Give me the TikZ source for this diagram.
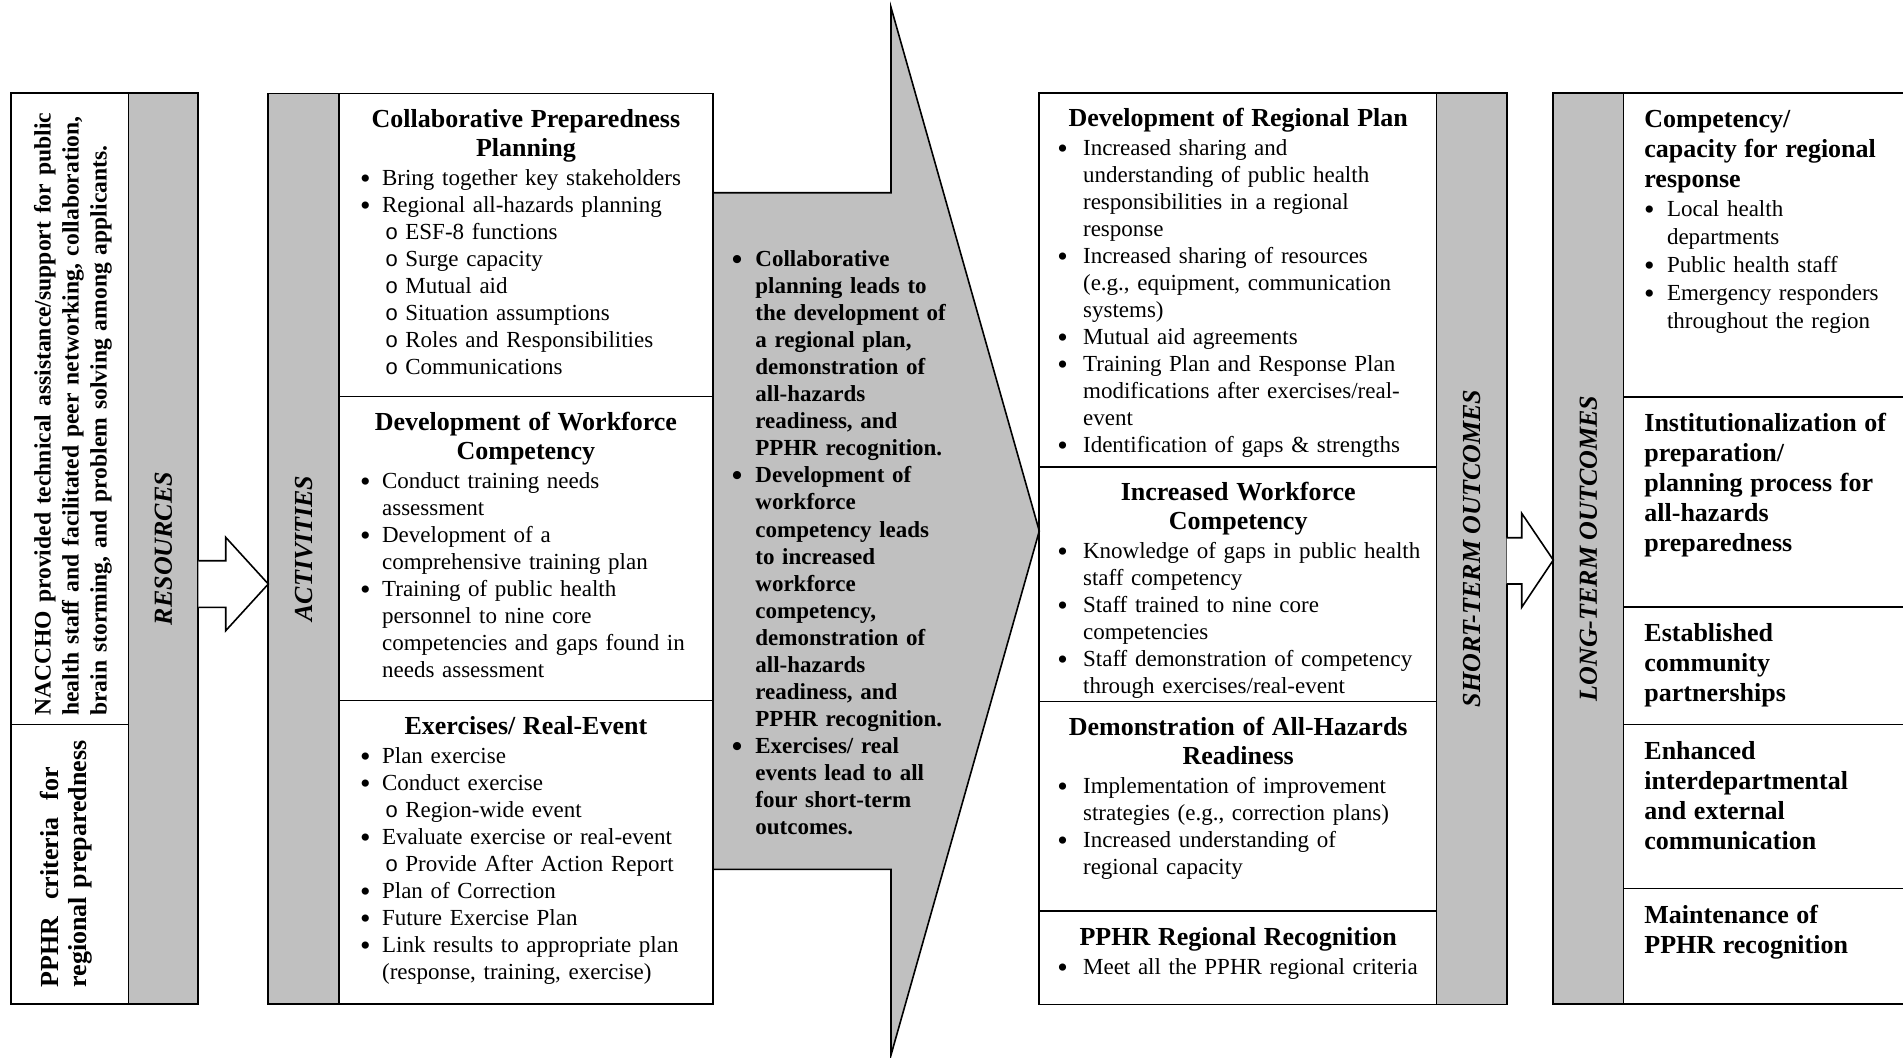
\documentclass[tikz,border=0pt]{standalone}
\usepackage{fontspec}
\setmainfont{Liberation Serif}
\newfontfamily\monof{Liberation Mono}
\usetikzlibrary{calc}
\definecolor{boxgray}{RGB}{192,192,192}
\newlength{\myBL}\newlength{\myBG}\newlength{\mySL}\newlength{\mySG}\newlength{\myHL}
\setlength{\parskip}{0pt}
\newcommand{\myFL}{\rule{0pt}{10pt}}
\newcommand{\myBullet}{\raisebox{-1.5pt}{\fontsize{15}{15}\selectfont\textbullet}}
\newcommand{\myHead}[1]{{\centering\bfseries\fontsize{13}{14.75}\selectfont\myFL #1\par}\vspace{1pt}}
\newcommand{\ltHead}[1]{{\setlength{\leftskip}{\myHL}\bfseries\fontsize{13}{15}\selectfont\myFL #1\par}\vspace{0.5pt}}
\newcommand{\bItem}[1]{{\setlength{\leftskip}{\myBL}\noindent\llap{\myBullet\hspace{\myBG}}#1\par}}
\newcommand{\sItem}[1]{{\setlength{\leftskip}{\mySL}\noindent\llap{{\monof\fontsize{11}{11}\selectfont o}\hspace{\mySG}}#1\par}}
\newcommand{\setAct}{\setlength{\parskip}{0pt}\setlength{\myBL}{21.35pt}\setlength{\myBG}{5.7pt}\setlength{\mySL}{33pt}\setlength{\mySG}{3.6pt}}
\newcommand{\setSt}{\setlength{\parskip}{0pt}\setlength{\myBL}{21.7pt}\setlength{\myBG}{7.6pt}}
\newcommand{\setLt}{\setlength{\parskip}{0pt}\setlength{\myHL}{10pt}\setlength{\myBL}{21.3pt}\setlength{\myBG}{6.2pt}}
\newcommand{\setMid}{\setlength{\parskip}{0pt}\setlength{\myBL}{17.5pt}\setlength{\myBG}{6.5pt}}
\begin{document}
\begin{tikzpicture}[x=0.5pt,y=-0.5pt,
  outer/.style={line width=0.9pt},
  divl/.style={line width=0.75pt},
  arrowline/.style={line width=0.8pt, line join=miter},
  txt/.style={anchor=north west, inner sep=0pt, align=left,
    font={\fontsize{11.5}{13.5}\selectfont}},
  actxt/.style={txt, text width=186.5pt, execute at begin node={\setAct}},
  sttxt/.style={txt, text width=198.5pt, execute at begin node={\setSt}},
  lttxt/.style={txt, text width=170pt, font={\fontsize{11.5}{14}\selectfont}, execute at begin node={\setLt}},
  midtxt/.style={txt, text width=150pt,
    font={\fontsize{11.5}{13.53}\selectfont\bfseries}, execute at begin node={\setMid}},
  lbl/.style={rotate=90, inner sep=0pt, font={\fontsize{13}{15}\selectfont\bfseries\itshape}},
  rottxt/.style={rotate=90, anchor=west, inner sep=0pt, align=left},
]
\useasboundingbox (0,0) rectangle (1903,1057);
\clip (0,0) rectangle (1903,1057);

% ---------- big gray arrow ----------
\coordinate (bigL1) at (712.7,192.7);
\coordinate (bigL2) at (712.7,869.3);
\coordinate (bigtip) at (1039.3,531);
\fill[boxgray] (bigL1) -- (891,192.7) -- (891,7.3) -- (bigtip) -- (891,1055) -- (891,869.3) -- (bigL2) -- cycle;
\draw[arrowline] (bigL1) -- (891,192.7) -- (891,7.3) -- (bigtip) -- (891,1055) -- (891,869.3) -- (bigL2);

% ---------- RESOURCES ----------
\fill[boxgray] (128.7,93) rectangle (198.3,1004);
\draw[divl] (128.7,93) -- (128.7,1004);
\draw[divl] (11,724.6) -- (128.7,724.6);
\draw[outer] (11,93) rectangle (198.3,1004);

% ---------- ACTIVITIES ----------
\fill[boxgray] (268.3,93.5) rectangle (339,1004);
\draw[divl] (339,93.5) -- (339,1004);
\draw[divl] (339,396.7) -- (712.7,396.7);
\draw[divl] (339,700.7) -- (712.7,700.7);
\draw[outer] (268.3,93.5) rectangle (712.7,1004);

% ---------- SHORT-TERM ----------
\fill[boxgray] (1436.7,93.3) rectangle (1506.7,1004.5);
\draw[divl] (1436.7,93.3) -- (1436.7,1004.5);
\draw[divl] (1039.3,467) -- (1436.7,467);
\draw[divl] (1039.3,701.3) -- (1436.7,701.3);
\draw[divl] (1039.3,911) -- (1436.7,911);
\draw[outer] (1039.3,93.3) rectangle (1506.7,1004.5);

% ---------- LONG-TERM ----------
\fill[boxgray] (1553.3,92.7) rectangle (1623.3,1004);
\draw[divl] (1623.3,92.7) -- (1623.3,1004);
\draw[divl] (1623.3,396.9) -- (1910,396.9);
\draw[divl] (1623.3,606.9) -- (1910,606.9);
\draw[divl] (1623.3,724.6) -- (1910,724.6);
\draw[divl] (1623.3,888.4) -- (1910,888.4);
\draw[outer] (1910,92.7) -- (1553.3,92.7) -- (1553.3,1004) -- (1910,1004);

% ---------- small arrows ----------
\coordinate (resE) at (198.3,584);
\coordinate (actW) at (268.3,584);
\fill[white] ($(resE)+(0,-23.3)$) -- ($(resE)+(27.4,-23.3)$) -- ($(resE)+(27.4,-46.7)$) -- (actW) -- ($(resE)+(27.4,46.7)$) -- ($(resE)+(27.4,23.3)$) -- ($(resE)+(0,23.3)$) -- cycle;
\draw[arrowline] ($(resE)+(0,-23.3)$) -- ($(resE)+(27.4,-23.3)$) -- ($(resE)+(27.4,-46.7)$) -- (actW) -- ($(resE)+(27.4,46.7)$) -- ($(resE)+(27.4,23.3)$) -- ($(resE)+(0,23.3)$);

\coordinate (stE) at (1506.7,560);
\coordinate (ltW) at (1553.3,560);
\fill[white] ($(stE)+(0,-22.3)$) -- ($(stE)+(15,-22.3)$) -- ($(stE)+(15,-46.7)$) -- (ltW) -- ($(stE)+(15,47.3)$) -- ($(stE)+(15,24)$) -- ($(stE)+(0,24)$) -- cycle;
\draw[arrowline] ($(stE)+(0,-22.3)$) -- ($(stE)+(15,-22.3)$) -- ($(stE)+(15,-46.7)$) -- (ltW) -- ($(stE)+(15,47.3)$) -- ($(stE)+(15,24)$) -- ($(stE)+(0,24)$);

% ---------- labels ----------
\node[lbl] (lres) at (163.5,548.5) {RESOURCES};
\node[lbl] (lact) at (303.7,548.5) {ACTIVITIES};
\node[lbl] (lst) at (1471.7,548.5) {SHORT-TERM OUTCOMES};
\node[lbl] (llt) at (1588.3,548.5) {LONG-TERM OUTCOMES};

% ---------- resources texts ----------
\node[rottxt, text width=330pt, font={\fontsize{11.8}{14}\selectfont\bfseries}] (nacc) at (73,716)
  {NACCHO provided technical assistance/support for public\\health staff and facilitated peer networking, collaboration,\\brain storming, and problem solving among applicants.};
\node[rottxt, text width=160pt, font={\fontsize{13}{14}\selectfont\bfseries}] (pphr) at (66,988)
  {PPHR\hspace{8.5pt}criteria\hspace{8.5pt}for\\regional preparedness};

% ---------- activities texts ----------
\node[actxt] (act1) at (339,106.7) {%
\myHead{Collaborative Preparedness\\Planning}
\bItem{Bring together key stakeholders}
\bItem{Regional all-hazards planning}
\sItem{ESF-8 functions}
\sItem{Surge capacity}
\sItem{Mutual aid}
\sItem{Situation assumptions}
\sItem{Roles and Responsibilities}
\sItem{Communications}};

\node[actxt] (act2) at (339,410) {%
\myHead{Development of Workforce\\Competency}
\bItem{Conduct training needs\newline assessment}
\bItem{Development of a\newline comprehensive training plan}
\bItem{Training of public health\newline personnel to nine core\newline competencies and gaps found in\newline needs assessment}};

\node[actxt] (act3) at (339,714.3) {%
\myHead{Exercises/ Real-Event}
\bItem{Plan exercise}
\bItem{Conduct exercise}
\sItem{Region-wide event}
\bItem{Evaluate exercise or real-event}
\sItem{Provide After Action Report}
\bItem{Plan of Correction}
\bItem{Future Exercise Plan}
\bItem{Link results to appropriate plan\newline (response, training, exercise)}};

% ---------- middle arrow text ----------
\node[midtxt] (mid) at (720,246) {%
\bItem{\myFL Collaborative\newline planning leads to\newline the development of\newline a regional plan,\newline demonstration of\newline all-hazards\newline readiness, and\newline PPHR recognition.}
\bItem{Development of\newline workforce\newline competency leads\newline to increased\newline workforce\newline competency,\newline demonstration of\newline all-hazards\newline readiness, and\newline PPHR recognition.}
\bItem{Exercises/ real\newline events lead to all\newline four short-term\newline outcomes.}};

% ---------- short-term texts ----------
\node[sttxt] (st1) at (1039.3,106) {%
\myHead{Development of Regional Plan}
\bItem{Increased sharing and\newline understanding of public health\newline responsibilities in a regional\newline response}
\bItem{Increased sharing of resources\newline (e.g., equipment, communication\newline systems)}
\bItem{Mutual aid agreements}
\bItem{Training Plan and Response Plan\newline modifications after exercises/real-\newline event}
\bItem{Identification of gaps \& strengths}};

\node[sttxt] (st2) at (1039.3,480) {%
\myHead{Increased Workforce\\Competency}
\bItem{Knowledge of gaps in public health\newline staff competency}
\bItem{Staff trained to nine core\newline competencies}
\bItem{Staff demonstration of competency\newline through exercises/real-event}};

\node[sttxt] (st3) at (1039.3,715) {%
\myHead{Demonstration of All-Hazards\\Readiness}
\bItem{Implementation of improvement\newline strategies (e.g., correction plans)}
\bItem{Increased understanding of\newline regional capacity}};

\node[sttxt] (st4) at (1039.3,924.6) {%
\myHead{PPHR Regional Recognition}
\bItem{Meet all the PPHR regional criteria}};

% ---------- long-term texts ----------
\node[lttxt] (lt1) at (1624,107.5) {%
\ltHead{Competency/\newline capacity for regional\newline response}
\bItem{Local health\newline departments}
\bItem{Public health staff}
\bItem{Emergency responders\newline throughout the region}};

\node[lttxt] (lt2) at (1624,411) {%
\ltHead{Institutionalization of\newline preparation/\newline planning process for\newline all-hazards\newline preparedness}};

\node[lttxt] (lt3) at (1624,621) {%
\ltHead{Established\newline community\newline partnerships}};

\node[lttxt] (lt4) at (1624,738.6) {%
\ltHead{Enhanced\newline interdepartmental\newline and external\newline communication}};

\node[lttxt] (lt5) at (1624,902.6) {%
\ltHead{Maintenance of\newline PPHR recognition}};

\end{tikzpicture}
\end{document}
